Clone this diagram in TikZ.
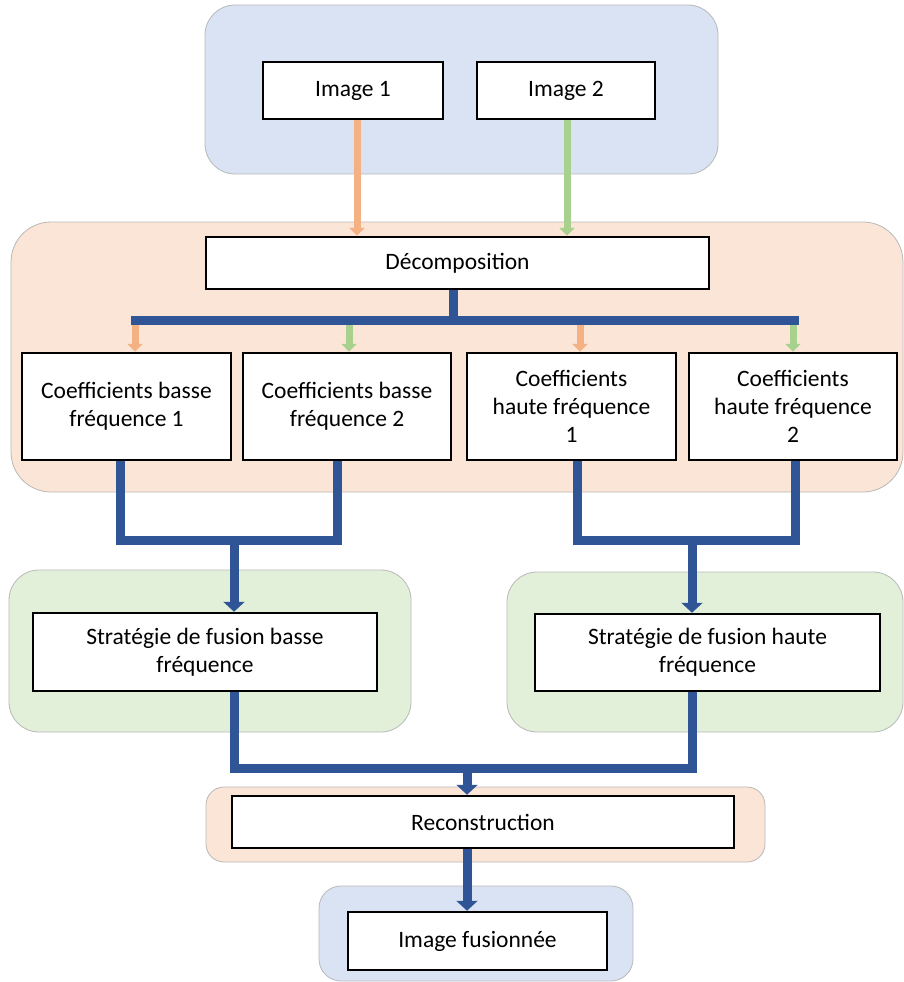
\documentclass[tikz,border=0pt]{standalone}
\usepackage{fontspec}
\setmainfont{Carlito}
\usetikzlibrary{arrows.meta}
\definecolor{pblue}{HTML}{DAE3F3}
\definecolor{porange}{HTML}{FBE5D6}
\definecolor{pgreen}{HTML}{E2F0D9}
\definecolor{dblue}{HTML}{2F5597}
\definecolor{aorange}{HTML}{F4B183}
\definecolor{agreen}{HTML}{A9D18E}
\pgfdeclarelayer{panels}
\pgfdeclarelayer{conn}
\pgfsetlayers{panels,conn,main}
\begin{document}
\begin{tikzpicture}[x=1pt,y=-1pt,
  panel/.style={draw=black!28, line width=0.8pt, rounded corners=#1},
  box/.style={draw=black, line width=2.5pt, fill=white, inner sep=0pt, align=center,
    font=\fontsize{23.5}{28}\selectfont},
  bline/.style={draw=dblue, line width=9pt},
  barrow/.style={draw=dblue, line width=9pt, -{Triangle[width=21pt,length=10pt]}},
  oarrow/.style={draw=aorange, line width=7pt, -{Triangle[width=15pt,length=8pt]}},
  garrow/.style={draw=agreen, line width=7pt, -{Triangle[width=15pt,length=8pt]}}
]
\useasboundingbox (0,0) rectangle (904,982);
% boxes
\path
  node[box, minimum width=180pt, minimum height=57pt] (img1) at (353,90.5) {Image 1}
  node[box, minimum width=178pt, minimum height=57pt] (img2) at (566,90.5) {Image 2}
  node[box, minimum width=503pt, minimum height=52pt] (decomp) at (457.5,263) {Décomposition}
  node[box, minimum width=209pt, minimum height=107pt] (c1) at (126.5,406.5) {Coefficients basse\\fréquence 1}
  node[box, minimum width=208pt, minimum height=107pt] (c2) at (347,406.5) {Coefficients basse\\fréquence 2}
  node[box, minimum width=209pt, minimum height=107pt] (c3) at (571.5,406.5) {Coefficients\\haute fréquence\\1}
  node[box, minimum width=208pt, minimum height=107pt] (c4) at (793,406.5) {Coefficients\\haute fréquence\\2}
  node[box, minimum width=344pt, minimum height=78pt] (sb) at (205,652) {Stratégie de fusion basse\\fréquence}
  node[box, minimum width=345pt, minimum height=77pt] (sh) at (707.5,652.5) {Stratégie de fusion haute\\fréquence}
  node[box, minimum width=502pt, minimum height=52pt] (rec) at (483,822) {Reconstruction}
  node[box, minimum width=259pt, minimum height=58pt] (fus) at (477.5,941) {Image fusionnée};
% panels
\begin{pgfonlayer}{panels}
\path[panel=30pt, fill=pblue] (205,5) rectangle (718,174);
\path[panel=40pt, fill=porange] (11,222) rectangle (903,492);
\path[panel=30pt, fill=pgreen] (9,570) rectangle (411,732);
\path[panel=30pt, fill=pgreen] (507,572) rectangle (903,732);
\path[panel=18pt, fill=porange] (206,787) rectangle (765,862);
\path[panel=22pt, fill=pblue] (319,886) rectangle (633,981);
\end{pgfonlayer}
% coordinates
\coordinate (a1) at (357,0);
\coordinate (a2) at (567,0);
\coordinate (d) at (453,320);
\coordinate (busL) at (131,320);
\coordinate (busR) at (799,320);
\coordinate (s1) at (135,324.5);
\coordinate (s2) at (349,324.5);
\coordinate (s3) at (580,324.5);
\coordinate (s4) at (793,324.5);
\coordinate (j1) at (120,540);
\coordinate (j2) at (337,540);
\coordinate (j3) at (234,540);
\coordinate (j4) at (577,540);
\coordinate (j5) at (795,540);
\coordinate (j6) at (692,540);
\coordinate (k1) at (234,768);
\coordinate (k2) at (692,768);
\coordinate (k3) at (467,768);
% connectors
\begin{pgfonlayer}{conn}
\draw[oarrow] (img1.south -| a1) -- (decomp.north -| a1);
\draw[garrow] (img2.south -| a2) -- (decomp.north -| a2);
\draw[bline] (decomp.south -| d) -- (d);
\draw[bline] (busL) -- (busR);
\draw[oarrow] (s1) -- (s1 |- c1.north);
\draw[garrow] (s2) -- (s2 |- c2.north);
\draw[oarrow] (s3) -- (s3 |- c3.north);
\draw[garrow] (s4) -- (s4 |- c4.north);
\draw[bline] (c1.south -| j1) -- (j1) -- (j2) -- (c2.south -| j2);
\draw[barrow] (j3) -- (sb.north -| j3);
\draw[bline] (c3.south -| j4) -- (j4) -- (j5) -- (c4.south -| j5);
\draw[barrow] (j6) -- (sh.north -| j6);
\draw[bline] (sb.south -| k1) -- (k1) -- (k2) -- (sh.south -| k2);
\draw[barrow] (k3) -- (rec.north -| k3);
\draw[barrow] (rec.south -| k3) -- (fus.north -| k3);
\end{pgfonlayer}
\end{tikzpicture}
\end{document}
